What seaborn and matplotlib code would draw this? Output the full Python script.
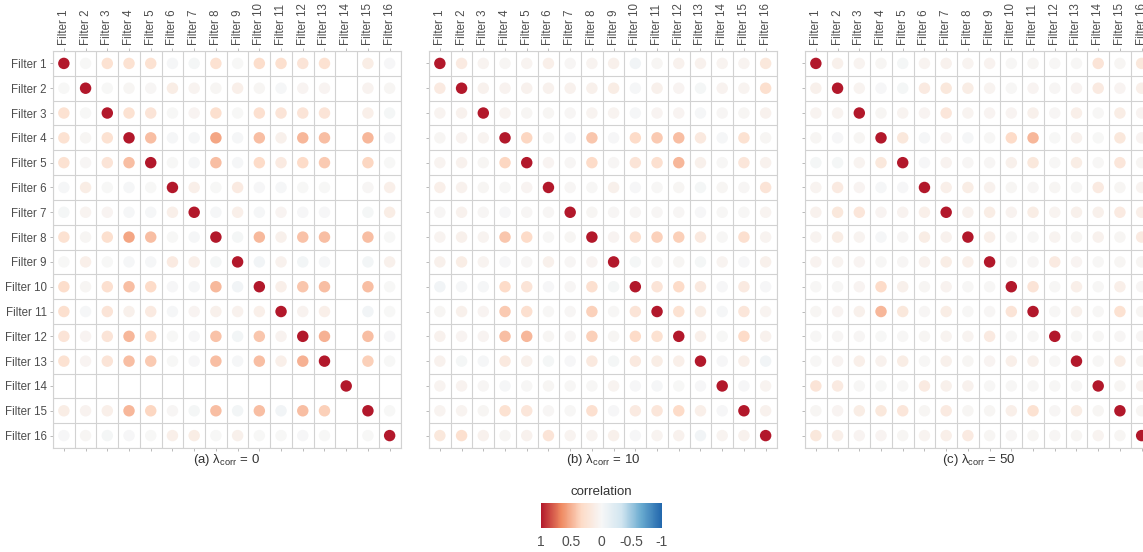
import numpy as np
import pandas as pd
import matplotlib.pyplot as plt
from matplotlib.colors import LinearSegmentedColormap, Normalize
from matplotlib.cm import ScalarMappable
import seaborn as sns

sns.set_theme(style="white")
plt.rcParams["font.family"] = ["Liberation Sans", "DejaVu Sans"]
plt.rcParams["mathtext.fontset"] = "custom"
plt.rcParams["mathtext.rm"] = "Liberation Sans"
plt.rcParams["mathtext.it"] = "Liberation Sans:italic"

filters = [f"Filter {i}" for i in range(1, 17)]
panel_tags = ["(a)", "(b)", "(c)"]
lambdas = [0, 10, 50]
nan = np.nan

# lower triangles: row k holds the correlation of filter k+1 with filters 1..k
low_a = [
    [],
    [0.00],
    [0.25, 0.00],
    [0.25, 0.03, 0.25],
    [0.25, 0.02, 0.22, 0.45],
    [-0.02, 0.12, 0.00, -0.02, 0.00],
    [-0.03, 0.05, 0.04, -0.02, -0.02, 0.10],
    [0.25, 0.03, 0.28, 0.55, 0.45, 0.00, -0.02],
    [0.00, 0.10, 0.00, -0.02, -0.02, 0.15, 0.10, -0.03],
    [0.30, 0.03, 0.27, 0.45, 0.32, -0.01, -0.02, 0.47, -0.05],
    [0.28, -0.02, 0.22, 0.08, 0.15, -0.02, 0.04, 0.08, 0.07, 0.10],
    [0.22, 0.04, 0.22, 0.48, 0.32, 0.00, -0.01, 0.43, -0.04, 0.42, 0.06],
    [0.25, 0.04, 0.22, 0.45, 0.40, 0.00, -0.01, 0.45, -0.02, 0.45, 0.10, 0.50],
    [nan, nan, nan, nan, nan, nan, nan, nan, nan, nan, nan, nan, nan],
    [0.12, 0.06, 0.10, 0.48, 0.35, 0.02, -0.03, 0.45, -0.04, 0.45, -0.05, 0.45, 0.38, nan],
    [-0.01, 0.03, -0.03, -0.01, 0.00, 0.10, 0.12, 0.00, 0.08, 0.00, 0.00, -0.01, 0.00, nan, 0.00],
]

low_b = [
    [],
    [0.15],
    [0.05, 0.07],
    [0.03, 0.06, 0.05],
    [0.05, 0.07, 0.03, 0.35],
    [0.10, 0.07, 0.03, 0.01, 0.04],
    [0.02, 0.07, 0.02, -0.01, 0.02, 0.02],
    [0.05, 0.08, 0.05, 0.42, 0.32, 0.01, 0.03],
    [0.08, 0.12, 0.05, -0.01, 0.02, 0.08, 0.02, 0.04],
    [-0.05, -0.02, -0.02, 0.32, 0.22, -0.01, 0.02, 0.27, -0.03],
    [0.03, 0.08, 0.04, 0.40, 0.27, 0.01, 0.02, 0.37, 0.01, 0.22],
    [0.07, 0.04, 0.04, 0.45, 0.48, 0.03, 0.02, 0.38, 0.03, 0.32, 0.25],
    [0.07, -0.03, -0.02, 0.17, 0.08, -0.03, -0.01, 0.17, -0.03, 0.17, 0.12, 0.10],
    [0.05, 0.06, 0.02, -0.02, 0.01, 0.03, 0.01, 0.01, 0.05, -0.01, -0.02, 0.00, -0.01],
    [0.05, 0.05, 0.03, 0.25, 0.20, 0.02, 0.01, 0.27, -0.01, 0.15, 0.20, 0.32, 0.10, -0.01],
    [0.18, 0.28, 0.07, 0.03, 0.07, 0.22, 0.05, 0.05, 0.08, -0.01, 0.05, 0.07, -0.05, 0.05, 0.07],
]

low_c = [
    [],
    [0.08],
    [0.05, 0.05],
    [0.03, -0.01, 0.03],
    [-0.03, -0.03, 0.05, 0.18],
    [0.05, 0.15, 0.04, -0.02, -0.01],
    [0.07, 0.18, 0.20, 0.04, 0.06, 0.10],
    [0.05, 0.12, 0.05, -0.02, 0.02, 0.12, 0.07],
    [0.06, 0.05, 0.04, 0.01, 0.02, 0.07, 0.12, 0.10],
    [0.01, 0.01, 0.04, 0.32, 0.08, 0.03, 0.06, 0.01, 0.01],
    [0.03, 0.04, 0.08, 0.48, 0.18, 0.02, 0.12, 0.01, 0.02, 0.22],
    [0.01, 0.02, 0.02, 0.00, 0.01, 0.03, 0.05, 0.05, 0.15, 0.01, 0.01],
    [0.01, 0.04, 0.10, 0.07, 0.12, 0.01, 0.08, 0.03, 0.04, 0.10, 0.08, 0.01],
    [0.22, 0.15, 0.01, 0.00, 0.01, 0.15, 0.08, 0.07, 0.01, 0.01, 0.01, 0.01, 0.01],
    [0.03, 0.04, 0.12, 0.18, 0.20, 0.03, 0.15, 0.03, 0.03, 0.10, 0.25, 0.02, 0.12, 0.03],
    [0.18, 0.10, 0.04, 0.04, 0.03, 0.05, 0.10, 0.15, 0.03, 0.02, 0.03, 0.02, 0.03, 0.05, 0.03],
]

cmap = LinearSegmentedColormap.from_list(
    "rdbu7", ["#2166AC", "#67A9CF", "#D1E5F0", "#F7F7F7", "#FDDBC7", "#EF8A62", "#B2182B"])
norm = Normalize(-1, 1)


def to_long(low):
    n = len(filters)
    m = np.eye(n)
    for i, row in enumerate(low):
        for j, v in enumerate(row):
            m[i, j] = v
            m[j, i] = v
    df = pd.DataFrame(m, columns=range(n))
    df["row"] = range(n)
    df = df.melt(id_vars="row", var_name="col", value_name="corr")
    df["col"] = df["col"].astype(int)
    return df.dropna()


fig = plt.figure(figsize=(11.43, 5.52), dpi=100)
W, H = 1143, 552
lefts = [53, 429, 805]
grid_c = "#d2d2d2"
txt_c = "#4d4d4d"

for k, low in enumerate([low_a, low_b, low_c]):
    ax = fig.add_axes([lefts[k] / W, (H - 448) / H, 347.5 / W, 397 / H])
    d = to_long(low)
    sns.scatterplot(data=d, x="col", y="row", hue="corr", palette=cmap,
                    hue_norm=(-1, 1), s=68, linewidth=0, legend=False, ax=ax,
                    zorder=3)
    ax.set_xlim(-0.5, 15.5)
    ax.set_ylim(15.5, -0.5)
    ax.set_xticks(range(16))
    ax.set_yticks(range(16))
    ax.set_xticks(np.arange(-0.5, 16), minor=True)
    ax.set_yticks(np.arange(-0.5, 16), minor=True)
    ax.grid(which="minor", color=grid_c, lw=0.8)
    ax.grid(which="major", visible=False)
    ax.set_xticklabels(filters, rotation=90, fontsize=8.3, color=txt_c)
    if k == 0:
        ax.set_yticklabels(filters, fontsize=8.3, color=txt_c)
    else:
        ax.set_yticklabels([])
    ax.tick_params(axis="x", which="major", top=True, labeltop=True,
                   bottom=True, labelbottom=False, length=2.5, width=0.6,
                   color="#b0b0b0", pad=2)
    ax.tick_params(axis="y", which="major", left=True, length=2.5, width=0.6,
                   color="#b0b0b0", pad=2)
    ax.tick_params(which="minor", length=0)
    ax.set_xlabel("")
    ax.set_ylabel("")
    for sp in ax.spines.values():
        sp.set_color(grid_c)
        sp.set_linewidth(0.8)
    cx = (lefts[k] + 347.5 / 2) / W
    fig.text(cx, (H - 460) / H,
             rf"{panel_tags[k]} λ$_{{\mathrm{{corr}}}}$ = {lambdas[k]}",
             ha="center", va="center", fontsize=9.5, color="#333333")

cax = fig.add_axes([541 / W, (H - 528) / H, 121 / W, 25 / H])
cb = fig.colorbar(ScalarMappable(norm=norm, cmap=cmap), cax=cax,
                  orientation="horizontal")
cax.invert_xaxis()
cb.set_ticks([1, 0.5, 0, -0.5, -1])
cb.set_ticklabels(["1", "0.5", "0", "-0.5", "-1"])
cb.outline.set_visible(False)
cax.tick_params(axis="x", direction="in", color="white", length=4, width=0.8,
                labelsize=10, labelcolor=txt_c, pad=5)
cax.set_title("correlation", fontsize=9.5, color="#333333", pad=6)

fig.savefig("out.png", dpi=100)
